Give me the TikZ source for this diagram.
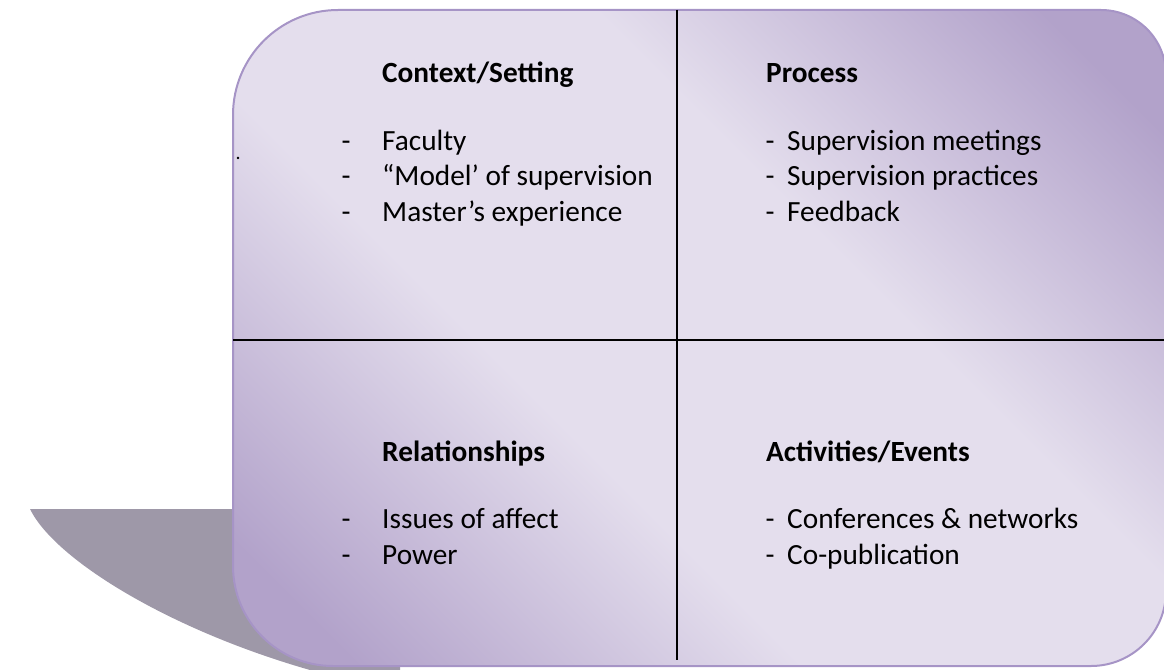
\documentclass[tikz,border=0pt]{standalone}
\usepackage{fontspec}
\setmainfont{Carlito}
\definecolor{dk}{RGB}{178,162,202}
\definecolor{lt}{RGB}{228,222,237}
\definecolor{edgec}{RGB}{166,148,198}
\definecolor{shad}{RGB}{158,152,168}
\pgfdeclareverticalshading{quadshade}{100bp}{color(0bp)=(dk); color(20bp)=(dk); color(40bp)=(lt); color(60bp)=(lt); color(80bp)=(dk); color(100bp)=(dk)}
\begin{document}
\begin{tikzpicture}[x=1pt,y=-1pt,
  hdr/.style={anchor=base west, inner sep=0pt, font=\fontsize{29.3}{35}\selectfont\bfseries},
  itm/.style={anchor=base west, inner sep=0pt, font=\fontsize{29.3}{35}\selectfont},
  divider/.style={line width=2pt, black},
  panel/.style={draw=edgec, line width=2pt, shading=quadshade, shading angle=-45}]
\useasboundingbox (0,0) rectangle (1164,669);
% shadow
\fill[shad] (30,509) .. controls (55,560) and (170,630) .. (310,670)
  -- (400,670) -- (400,509) -- cycle;
% panel
\path[panel] (233,300) [rounded corners=105pt] -- (233,10) [rounded corners=65pt] -- (1166,10)
  [rounded corners=75pt] -- (1166,666) [rounded corners=100pt] -- (233,666) -- cycle;
% dividers
\coordinate (vtop) at (677,10);
\coordinate (vbot) at (677,660);
\coordinate (hl) at (233,340);
\coordinate (hr) at (1166,340);
\draw[divider] (vtop) -- (vbot);
\draw[divider] (hl) -- (hr);
% stray dot
\node[anchor=base west, inner sep=0pt, font=\fontsize{20}{24}\selectfont] (dot) at (235.5,159) {.};
% top left
\node[hdr] (ctx) at (382,82) {Context/Setting};
\node[itm] (ld1) at (341.5,150) {-};
\node[itm] (lt1) at (382,150) {Faculty};
\node[itm] (ld2) at (341.5,185.5) {-};
\node[itm] (lt2) at (382,185.5) {“Model’ of supervision};
\node[itm] (ld3) at (341.5,221) {-};
\node[itm] (lt3) at (382,221) {Master’s experience};
% top right
\node[hdr] (proc) at (766,82) {Process};
\node[itm] (rd1) at (765.5,150) {-};
\node[itm] (rt1) at (787,150) {Supervision meetings};
\node[itm] (rd2) at (765.5,185.5) {-};
\node[itm] (rt2) at (787,185.5) {Supervision practices};
\node[itm] (rd3) at (765.5,221) {-};
\node[itm] (rt3) at (787,221) {Feedback};
% bottom left
\node[hdr] (rel) at (382,461) {Relationships};
\node[itm] (bd1) at (341.5,528) {-};
\node[itm] (bt1) at (382,528) {Issues of affect};
\node[itm] (bd2) at (341.5,564) {-};
\node[itm] (bt2) at (382,564) {Power};
% bottom right
\node[hdr] (act) at (766,461) {Activities/Events};
\node[itm] (ed1) at (765.5,528) {-};
\node[itm] (et1) at (787,528) {Conferences \& networks};
\node[itm] (ed2) at (765.5,564) {-};
\node[itm] (et2) at (787,564) {Co-publication};
\end{tikzpicture}
\end{document}
